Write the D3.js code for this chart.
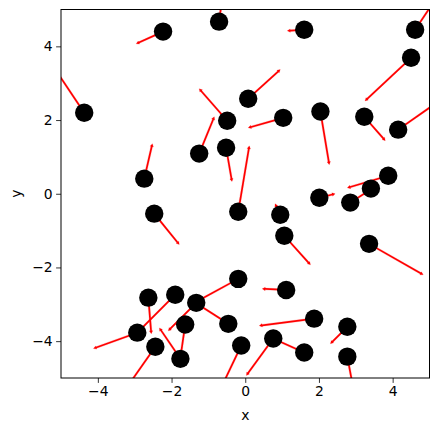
<!DOCTYPE html>
<html><head><meta charset="utf-8">
<script src="https://cdn.jsdelivr.net/npm/d3@7"></script>
<style>body{margin:0;background:#fff}svg{display:block}text{font-family:"DejaVu Sans",sans-serif;}</style>
</head><body>
<script>
// particle positions (data units)
const posX = [-4.37,-2.23,-0.71,0.08,-0.49,-1.25,-0.52,-2.74,-0.19,1.60,4.61,4.50,1.03,2.04,3.23,4.15,3.88,3.41,2.01,2.85,0.95,1.06,3.36,1.11,1.87,2.77,0.76,1.60,2.77,
  -2.63,-1.90,-1.33,-0.19,-0.46,-2.93,-1.63,-1.76,-2.44,-0.11,-2.47];
const posY = [2.20,4.40,4.67,2.58,1.98,1.09,1.25,0.41,-0.49,4.45,4.45,3.69,2.06,2.23,2.09,1.74,0.49,0.14,-0.11,-0.24,-0.57,-1.14,-1.36,-2.61,-3.39,-3.61,-3.93,-4.31,-4.42,
  -2.82,-2.74,-2.96,-2.31,-3.53,-3.77,-3.55,-4.48,-4.15,-4.12,-0.54];
// velocity vectors (data units)
const velU = [-0.71,-0.73,0.06,0.87,-0.76,0.41,0.16,0.22,0.30,-0.46,0.50,-1.25,-0.95,0.24,0.57,1.00,-1.11,-0.15,0.43,0.55,-0.14,0.71,1.47,-0.65,-1.49,-0.46,-0.73,-0.80,0.15,
  0.08,-0.95,-0.76,-1.10,-0.81,-1.19,-0.13,-0.57,-0.70,-0.50,0.68];
const velV = [1.06,-0.33,0.45,0.79,0.87,1.00,-0.92,0.95,1.79,-0.03,0.75,-1.17,-0.27,-1.44,-0.65,0.70,-0.33,0.10,0.11,0.35,0.30,-0.79,-0.84,0.03,-0.19,-0.46,-1.00,0.36,-0.80,
  -0.98,-0.95,-0.76,-0.60,0.52,-0.43,-0.90,0.84,-1.00,-1.05,-0.84];
const xTicks = [-4,-2,0,2,4];
const yTicks = [-4,-2,0,2,4];

const W = 439, H = 432;
const mL = 61, mR = 429.5, mT = 9.5, mB = 378;
const svg = d3.select("body").append("svg").attr("width", W).attr("height", H);
const x = d3.scaleLinear().domain([-5,5]).range([mL,mR]);
const y = d3.scaleLinear().domain([-5,5]).range([mB,mT]);

svg.append("clipPath").attr("id","clip").append("rect")
  .attr("x",mL).attr("y",mT).attr("width",mR-mL).attr("height",mB-mT);

const data = posX.map((d,i)=>({x:d,y:posY[i],u:velU[i],v:velV[i]}));
const g = svg.append("g").attr("clip-path","url(#clip)");

function arrowPath(d){
  const x0=x(d.x), y0=y(d.y), x1=x(d.x+d.u), y1=y(d.y+d.v);
  const dx=x1-x0, dy=y1-y0, L=Math.hypot(dx,dy);
  const ux=dx/L, uy=dy/L, nx=-uy, ny=ux;
  const hw=0.85, hh=1.7, hl=Math.min(3, L);
  const b=L-hl;
  const p=[[0,hw],[b,hw],[b,hh],[L,0],[b,-hh],[b,-hw],[0,-hw]];
  return "M"+p.map(([a,c])=>[x0+ux*a+nx*c, y0+uy*a+ny*c].join(",")).join("L")+"Z";
}
g.selectAll("path.arrow").data(data).join("path").attr("class","arrow")
  .attr("d",arrowPath).attr("fill","red").attr("stroke","red").attr("stroke-width",0.2);
g.selectAll("circle").data(data).join("circle")
  .attr("cx",d=>x(d.x)).attr("cy",d=>y(d.y)).attr("r",9.2).attr("fill","black");

// axes
const fmt = d=>d<0?"\u2212"+Math.abs(d):d;
const xAxis = d3.axisBottom(x).tickValues(xTicks).tickSize(4.9).tickPadding(3.5).tickFormat(fmt);
const yAxis = d3.axisLeft(y).tickValues(yTicks).tickSize(4.9).tickPadding(3.5).tickFormat(fmt);
const gx = svg.append("g").attr("transform",`translate(0,${mB})`).call(xAxis);
const gy = svg.append("g").attr("transform",`translate(${mL},0)`).call(yAxis);
[gx,gy].forEach(a=>{
  a.select(".domain").remove();
  a.selectAll("text").attr("font-size","13.9px").attr("font-family","DejaVu Sans").attr("fill","#000");
  a.selectAll("line").attr("stroke","#000").attr("stroke-width",0.8);
});
svg.append("rect").attr("x",mL).attr("y",mT).attr("width",mR-mL).attr("height",mB-mT)
  .attr("fill","none").attr("stroke","#000").attr("stroke-width",1);
svg.append("text").attr("x",(mL+mR)/2).attr("y",420).attr("text-anchor","middle")
  .attr("font-size","13.9px").text("x");
svg.append("text").attr("transform",`translate(21,${(mT+mB)/2}) rotate(-90)`).attr("text-anchor","middle")
  .attr("font-size","13.9px").text("y");
</script>
</body></html>
